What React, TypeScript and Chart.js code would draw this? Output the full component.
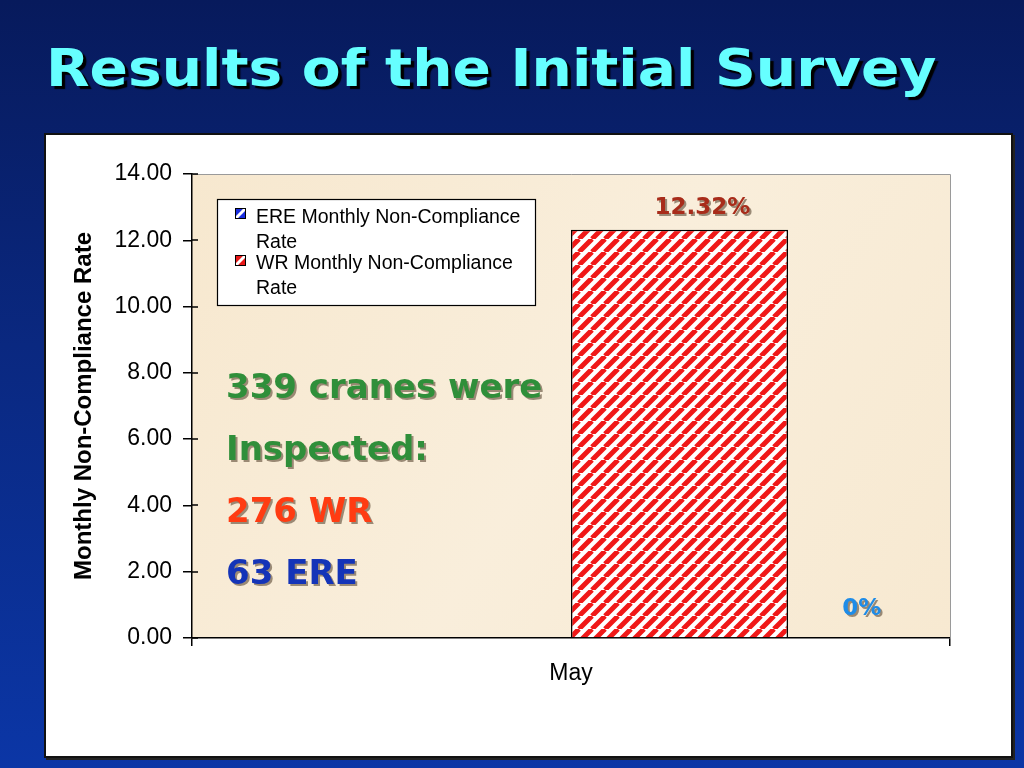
import React, { useEffect, useRef } from "react";
import { Chart, registerables } from "chart.js";

Chart.register(...registerables);

// ---------- data ----------
const chartTitle = "Results of the Initial Survey";
const categories = ["May"];
const ereValues = [0];
const wrValues = [12.32];
const seriesLabels = ["ERE Monthly Non-Compliance Rate", "WR Monthly Non-Compliance Rate"];
const legendLines = [
  ["ERE Monthly Non-Compliance", "Rate"],
  ["WR Monthly Non-Compliance", "Rate"],
];
const ereValueLabel = "0%";
const wrValueLabel = "12.32%";
const yTickValues = [0, 2, 4, 6, 8, 10, 12, 14];
const yAxisTitle = "Monthly Non-Compliance Rate";
const noteLines = ["339 cranes were", "Inspected:", "276 WR", "63 ERE"];
const noteColors = ["#2f8f3a", "#2f8f3a", "#ff3c12", "#1434b8"];

function makeStripes(color: string, size: number, lw: number) {
  const c = document.createElement("canvas");
  c.width = size;
  c.height = size;
  const g = c.getContext("2d")!;
  g.fillStyle = "#ffffff";
  g.fillRect(0, 0, size, size);
  g.strokeStyle = color;
  g.lineWidth = lw;
  g.beginPath();
  for (const k of [-size, 0, size]) {
    g.moveTo(k, size);
    g.lineTo(k + size, 0);
  }
  g.stroke();
  return c;
}

const App = () => {
  const canvasRef = useRef<HTMLCanvasElement>(null);

  useEffect(() => {
    const canvas = canvasRef.current!;
    const ctx0 = canvas.getContext("2d")!;
    const wrPattern = ctx0.createPattern(makeStripes("#f01818", 13, 5), "repeat")!;
    const erePattern = ctx0.createPattern(makeStripes("#1a2ee0", 13, 5), "repeat")!;
    const iconColors = ["#1a2ee0", "#e81818"];

    const deco = {
      id: "deco",
      beforeDraw(chart: any) {
        const { ctx, chartArea: a } = chart;
        ctx.save();
        const grd = ctx.createLinearGradient(a.left, a.top, a.right, a.bottom);
        grd.addColorStop(0, "#f7e8cf");
        grd.addColorStop(0.5, "#f9eedb");
        grd.addColorStop(1, "#f7e9d1");
        ctx.fillStyle = grd;
        ctx.fillRect(a.left, a.top, a.right - a.left, a.bottom - a.top);
        ctx.restore();
      },
      afterDraw(chart: any) {
        const { ctx, chartArea: a } = chart;
        const yScale = chart.scales.y;
        ctx.save();
        // top & right plot border
        ctx.strokeStyle = "#9a9a9a";
        ctx.lineWidth = 1;
        ctx.beginPath();
        ctx.moveTo(a.left, a.top + 0.5);
        ctx.lineTo(a.right + 0.5, a.top + 0.5);
        ctx.lineTo(a.right + 0.5, a.bottom);
        ctx.stroke();
        // inner y ticks
        ctx.strokeStyle = "#000";
        ctx.lineWidth = 1.5;
        ctx.beginPath();
        for (const v of yTickValues) {
          const py = Math.round(yScale.getPixelForValue(v));
          ctx.moveTo(a.left, py);
          ctx.lineTo(a.left + 6, py);
        }
        ctx.stroke();

        // legend
        const lx = 171, ly = 64, lw = 318, lh = 106;
        ctx.fillStyle = "#ffffff";
        ctx.fillRect(lx, ly, lw, lh);
        ctx.strokeStyle = "#000";
        ctx.lineWidth = 1.2;
        ctx.strokeRect(lx + 0.5, ly + 0.5, lw, lh);
        ctx.font = "19.5px 'Liberation Sans', Arial, sans-serif";
        ctx.textAlign = "left";
        ctx.textBaseline = "alphabetic";
        chart.data.datasets.forEach((ds: any, i: number) => {
          const iy = 73 + i * 47;
          const ix = 189;
          ctx.save();
          ctx.beginPath();
          ctx.rect(ix, iy, 11, 11);
          ctx.clip();
          ctx.fillStyle = iconColors[i];
          ctx.fillRect(ix, iy, 11, 11);
          ctx.strokeStyle = "#fff";
          ctx.lineWidth = 3;
          ctx.beginPath();
          ctx.moveTo(ix, iy + 11);
          ctx.lineTo(ix + 11, iy);
          ctx.stroke();
          ctx.restore();
          ctx.strokeStyle = "#000";
          ctx.lineWidth = 1;
          ctx.strokeRect(ix + 0.5, iy + 0.5, 10, 10);
          ctx.fillStyle = "#000";
          const lines = legendLines[i] || [ds.label];
          lines.forEach((t: string, j: number) => {
            ctx.fillText(t, 210, 88 + i * 46 + j * 25);
          });
        });

        // notes
        ctx.font = "bold 34px 'DejaVu Sans', Verdana, sans-serif";
        ctx.shadowColor = "rgba(60,40,20,0.5)";
        ctx.shadowOffsetX = 2;
        ctx.shadowOffsetY = 2;
        ctx.shadowBlur = 0;
        noteLines.forEach((t, i) => {
          ctx.fillStyle = noteColors[i];
          ctx.fillText(t, 180, 263 + i * 62);
        });

        // value labels
        const wrBar: any = chart.getDatasetMeta(1).data[0];
        ctx.textAlign = "center";
        ctx.textBaseline = "middle";
        ctx.font = "bold 23px 'DejaVu Sans', Verdana, sans-serif";
        ctx.fillStyle = "#a82c1a";
        ctx.fillText(wrValueLabel, wrBar.x + 23, wrBar.y - 22);
        ctx.fillStyle = "#1e8ce8";
        ctx.fillText(ereValueLabel, wrBar.x + wrBar.width * 0.84, yScale.getPixelForValue(0) - 29);
        ctx.restore();
      },
    };

    const chart = new Chart(canvas, {
      type: "bar",
      data: {
        labels: categories,
        datasets: [
          { label: seriesLabels[0], data: ereValues, backgroundColor: erePattern, borderColor: "#000", borderWidth: 0 },
          { label: seriesLabels[1], data: wrValues, backgroundColor: wrPattern, borderColor: "#000", borderWidth: 1.5 },
        ],
      },
      options: {
        animation: false,
        responsive: true,
        maintainAspectRatio: false,
        layout: { padding: { left: 0, right: 61, top: 39, bottom: 0 } },
        datasets: { bar: { categoryPercentage: 0.5726, barPercentage: 1 } } as any,
        plugins: { legend: { display: false }, tooltip: { enabled: false } },
        scales: {
          x: {
            grid: { display: true, drawOnChartArea: false, offset: true, tickLength: 8, color: "#000", lineWidth: 1.5 },
            border: { color: "#000", width: 1.5 },
            ticks: { color: "#000", font: { family: "'Liberation Sans', Arial, sans-serif", size: 23 }, padding: 14 },
            afterFit: (s: any) => {
              s.height = 118;
            },
          },
          y: {
            min: 0,
            max: 14,
            afterBuildTicks: (s: any) => {
              s.ticks = yTickValues.map((v) => ({ value: v }));
            },
            ticks: {
              callback: (v: any) => Number(v).toFixed(2),
              color: "#000",
              font: { family: "'Liberation Sans', Arial, sans-serif", size: 23 },
              padding: 11,
            },
            grid: { drawOnChartArea: false, tickLength: 9, color: "#000", lineWidth: 1.5 },
            border: { color: "#000", width: 1.5 },
            title: {
              display: true,
              text: yAxisTitle,
              color: "#000",
              font: { family: "'Liberation Sans', Arial, sans-serif", size: 24, weight: "bold" },
              padding: { top: 24, bottom: 0 },
            },
            afterFit: (s: any) => {
              s.width = 146;
            },
          },
        },
      } as any,
      plugins: [deco],
    });
    return () => chart.destroy();
  }, []);

  return (
    <div
      style={{
        position: "absolute",
        left: 0,
        top: 0,
        width: 1024,
        height: 768,
        overflow: "hidden",
        background: "linear-gradient(to bottom, #071a5c 0%, #0a2880 45%, #0b36a6 100%)",
      }}
    >
      <div
        style={{
          position: "absolute",
          left: 46,
          top: 43,
          fontFamily: "'DejaVu Sans', Verdana, sans-serif",
          fontWeight: "bold",
          fontSize: 51,
          lineHeight: "51px",
          color: "#66ffff",
          whiteSpace: "nowrap",
          textShadow: "3px 3px 1px #000000",
          transform: "scaleX(1.11)",
          transformOrigin: "0 0",
        }}
      >
        {chartTitle}
      </div>
      <div
        style={{
          position: "absolute",
          left: 44,
          top: 133,
          width: 965,
          height: 621,
          border: "2px solid #111",
          background: "#ffffff",
          boxShadow: "2px 2px 0 #222",
        }}
      >
        <div style={{ position: "relative", width: 965, height: 621 }}>
          <canvas ref={canvasRef} />
        </div>
      </div>
    </div>
  );
};

export default App;
